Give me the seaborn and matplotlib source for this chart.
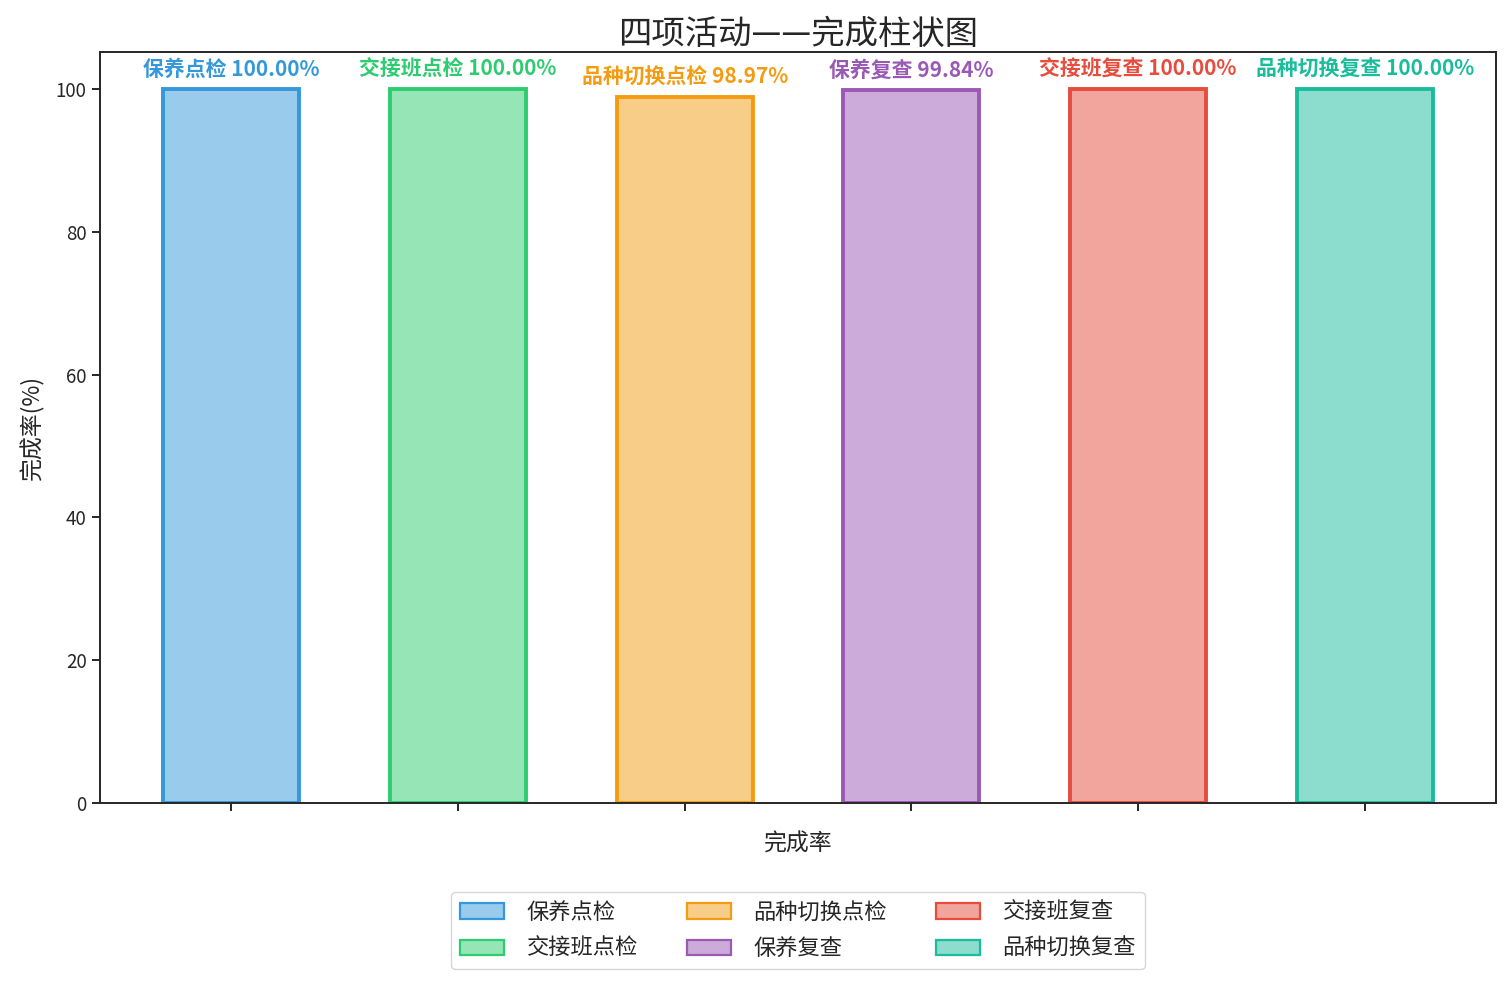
import matplotlib
matplotlib.use("Agg")
import matplotlib.pyplot as plt
import seaborn as sns
import pandas as pd
from matplotlib.colors import to_rgba
from matplotlib.patches import Patch

# 数据
活动 = ['保养点检', '交接班点检', '品种切换点检', '保养复查', '交接班复查', '品种切换复查']
完成率 = [100.00, 100.00, 98.97, 99.84, 100.00, 100.00]
颜色 = ['#3498db', '#2ecc71', '#f39c12', '#9b59b6', '#e74c3c', '#1abc9c']

sns.set_style("ticks")
plt.rcParams['font.family'] = ['Noto Sans CJK SC', 'DejaVu Sans']
plt.rcParams['axes.unicode_minus'] = False
plt.rcParams['axes.linewidth'] = 1.4

df = pd.DataFrame({'活动': 活动, '完成率': 完成率})

fig = plt.figure(figsize=(15.1, 9.85), dpi=100)
ax = fig.add_axes([0.066, 0.185, 0.925, 0.762])

sns.barplot(data=df, x='活动', y='完成率', hue='活动', palette=颜色,
            width=0.6, legend=False, ax=ax, saturation=1)

# 半透明填充 + 实色边框
for patch, c in zip(ax.patches, 颜色):
    patch.set_facecolor(to_rgba(c, 0.5))
    patch.set_edgecolor(c)
    patch.set_linewidth(2.8)

# 柱顶标签
for i, (name, v) in enumerate(zip(活动, 完成率)):
    ax.text(i, v + 1.3, f"{name} {v:.2f}%", ha='center', va='bottom',
            color=颜色[i], fontweight='bold', fontsize=15)

ax.set_xlim(-0.58, 5.58)
ax.set_ylim(0, 105.2)
ax.set_xticks(range(len(活动)))
ax.set_xticklabels([''] * len(活动))
ax.tick_params(axis='both', labelsize=13.5, length=6, width=1.4)
ax.set_title("四项活动——完成柱状图", fontsize=24, pad=6)
ax.set_xlabel("完成率", fontsize=16.5, labelpad=12)
ax.set_ylabel("完成率(%)", fontsize=16.5, labelpad=8)

handles = [Patch(facecolor=to_rgba(c, 0.5), edgecolor=c, linewidth=1.6) for c in 颜色]
ax.legend(handles, 活动, loc='upper center', bbox_to_anchor=(0.5, -0.104),
          ncol=3, fontsize=16, handlelength=2.0, handletextpad=1.0,
          columnspacing=2.2, labelspacing=0.6)

fig.savefig("out.png", dpi=100)
